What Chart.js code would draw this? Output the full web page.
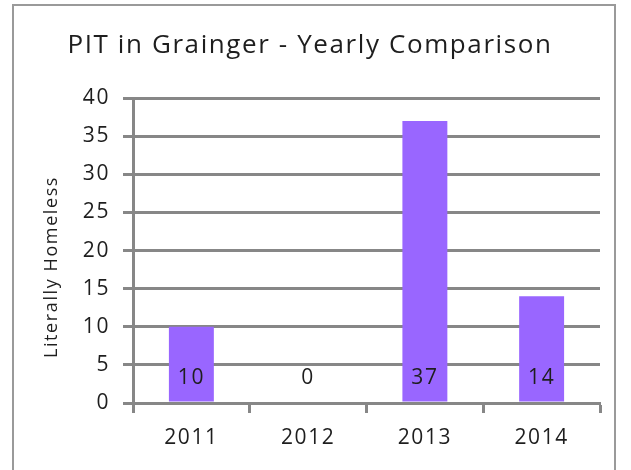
<!DOCTYPE html>
<html>
<head>
<meta charset="utf-8">
<script src="https://cdn.jsdelivr.net/npm/chart.js@4.4.0/dist/chart.umd.min.js"></script>
<style>
  html, body { margin: 0; padding: 0; background: #fff; overflow: hidden; }
  #wrap { position: absolute; left: 0; top: 0; width: 631px; height: 470px; }
</style>
</head>
<body>
<div id="wrap"><canvas id="myChart"></canvas></div>
<script>
const anos = ['2011', '2012', '2013', '2014'];
const valores = [10, 0, 37, 14];
const ticksY = [0, 5, 10, 15, 20, 25, 30, 35, 40];
const tituloEixoY = 'Literally Homeless';

const cinza = '#878787';
const corTexto = '#1e1e1e';
const fonte = '"Open Sans", Lato, sans-serif';
const espacamento = '1.6px';

// espacamento entre letras (o canvas perde o estado ao redimensionar)
const letras = {
    id: 'letras',
    beforeUpdate(chart) { chart.ctx.letterSpacing = espacamento; },
    beforeDraw(chart) { chart.ctx.letterSpacing = espacamento; }
};

// moldura em volta do grafico + titulo do eixo y
const moldura = {
    id: 'moldura',
    beforeDraw(chart) {
        const ctx = chart.ctx;
        ctx.save();
        ctx.strokeStyle = '#9a9a9a';
        ctx.lineWidth = 2;
        ctx.strokeRect(13, 5, 602, 480);
        ctx.restore();
    },
    afterDraw(chart) {
        const ctx = chart.ctx;
        ctx.save();
        ctx.translate(52, 267);
        ctx.rotate(-Math.PI / 2);
        ctx.font = '18px ' + fonte;
        ctx.fillStyle = corTexto;
        ctx.textAlign = 'center';
        ctx.textBaseline = 'middle';
        ctx.fillText(tituloEixoY, 0, 0);
        ctx.restore();
    }
};

// rotulos de valor dentro da barra, perto da base
const rotulos = {
    id: 'rotulos',
    afterDatasetsDraw(chart) {
        const ctx = chart.ctx;
        const meta = chart.getDatasetMeta(0);
        const base = chart.scales.y.getPixelForValue(0);
        ctx.save();
        ctx.font = '21px ' + fonte;
        ctx.fillStyle = corTexto;
        ctx.textAlign = 'center';
        ctx.textBaseline = 'middle';
        meta.data.forEach((bar, i) => {
            ctx.fillText(String(valores[i]), bar.x, base - 25);
        });
        ctx.restore();
    }
};

new Chart(document.getElementById('myChart'), {
    type: 'bar',
    data: {
        labels: anos,
        datasets: [{
            label: tituloEixoY,
            data: valores,
            backgroundColor: '#9966FF',
            borderWidth: 0,
            barPercentage: 0.385,
            categoryPercentage: 1
        }]
    },
    options: {
        responsive: true,
        maintainAspectRatio: false,
        animation: false,
        layout: { padding: { left: 20, right: 31, top: 0, bottom: 0 } },
        plugins: {
            legend: { display: false },
            tooltip: { enabled: false },
            title: {
                display: true,
                text: 'PIT in Grainger - Yearly Comparison',
                color: corTexto,
                font: { family: fonte, size: 26, weight: 'normal' },
                padding: { top: 30, bottom: 37 }
            }
        },
        scales: {
            x: {
                afterFit(scale) { scale.height = 67; },
                grid: {
                    offset: true,
                    drawOnChartArea: false,
                    drawTicks: true,
                    tickLength: 10,
                    tickWidth: 3,
                    tickColor: cinza
                },
                border: { display: true, color: cinza, width: 3 },
                ticks: {
                    color: corTexto,
                    padding: 12,
                    font: { family: fonte, size: 21 }
                }
            },
            y: {
                min: 0,
                max: 40,
                afterFit(scale) { scale.width = 113; },
                afterBuildTicks(scale) { scale.ticks = ticksY.map(v => ({ value: v })); },
                grid: {
                    color: cinza,
                    lineWidth: 3,
                    drawTicks: true,
                    tickLength: 10,
                    tickColor: cinza
                },
                border: { display: true, color: cinza, width: 3 },
                ticks: {
                    color: corTexto,
                    padding: 13,
                    font: { family: fonte, size: 21 }
                }
            }
        }
    },
    plugins: [letras, moldura, rotulos]
});
</script>
</body>
</html>
